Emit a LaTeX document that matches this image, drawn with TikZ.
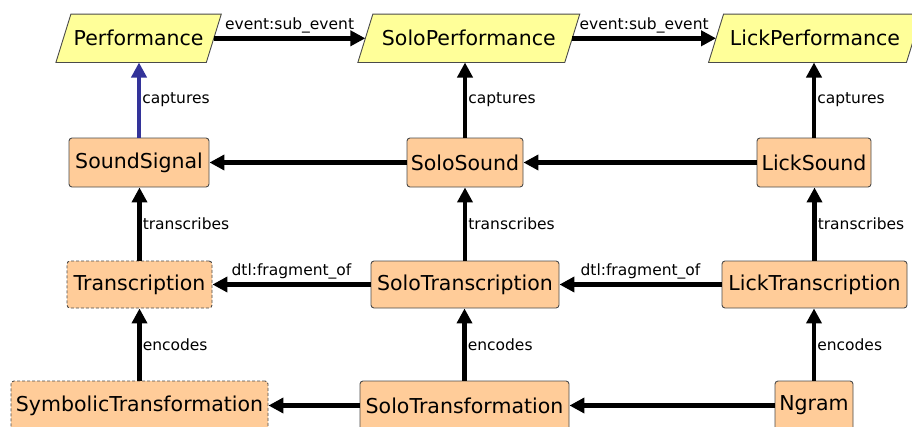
\documentclass[tikz,border=0pt]{standalone}
\usepackage{fontspec}
\setmainfont{DejaVu Sans}
\usetikzlibrary{arrows.meta,backgrounds}
\definecolor{pyellow}{HTML}{FFFF99}
\definecolor{porange}{HTML}{FFCC99}
\definecolor{pborder}{HTML}{4A4A4A}
\definecolor{pblue}{HTML}{333399}
\begin{document}
\begin{tikzpicture}[x=1pt,y=-1pt,
  every node/.style={font=\fontsize{20.5}{23}\selectfont},
  perf/.style={inner sep=0pt, minimum height=48pt},
  pshape/.style={draw=pborder, fill=pyellow, line width=0.9pt},
  cls/.style={draw=pborder, fill=porange, line width=0.9pt, rounded corners=3pt, inner sep=0pt, minimum height=49pt},
  abstract/.style={cls, dash pattern=on 3pt off 2pt},
  rel/.style={line width=4.5pt, -{Triangle[length=15pt,width=15pt]}},
  lbl/.style={font=\fontsize{15.5}{18}\selectfont, inner sep=1pt},
]
\useasboundingbox (0,0) rectangle (912,426);

% top row: performances
\node[perf, minimum width=150pt] (perf) at (138.6,38.3) {Performance};
\node[perf, minimum width=206.5pt] (soloperf) at (468.8,38.3) {SoloPerformance};
\node[perf, minimum width=197.5pt] (lickperf) at (815,38.3) {LickPerformance};
\begin{scope}[on background layer]
\foreach \n in {perf,soloperf,lickperf}{
  \draw[pshape] ([xshift=-7.5pt]\n.south west) -- ([xshift=-7.5pt]\n.south east)
     -- ([xshift=7.5pt]\n.north east) -- ([xshift=7.5pt]\n.north west) -- cycle;
}
\end{scope}

% second row: sounds
\node[cls, minimum width=140pt] (sound) at (139,162.5) {SoundSignal};
\node[cls, minimum width=116pt] (solosound) at (465,162.5) {SoloSound};
\node[cls, minimum width=114pt] (licksound) at (814,162.5) {LickSound};

% third row: transcriptions
\node[abstract, minimum width=145pt, minimum height=47pt] (trans) at (139.5,284.5) {Transcription};
\node[cls, minimum width=188pt, minimum height=47pt] (solotrans) at (465,284.5) {SoloTranscription};
\node[cls, minimum width=185pt, minimum height=47pt] (licktrans) at (814.5,284.5) {LickTranscription};

% fourth row: transformations
\node[abstract, minimum width=257pt] (symb) at (139.5,405.5) {SymbolicTransformation};
\node[cls, minimum width=209pt] (soloform) at (464.5,405.5) {SoloTransformation};
\node[cls, minimum width=78pt] (ngram) at (814,405.5) {Ngram};

% horizontal relations
\draw[rel] (perf.east) -- (soloperf.west) node[lbl, midway, above=2pt] {event:sub\_event};
\draw[rel] (soloperf.east) -- (lickperf.west) node[lbl, midway, above=2pt] {event:sub\_event};
\draw[rel] (solosound) -- (sound);
\draw[rel] (licksound) -- (solosound);
\draw[rel] (solotrans) -- (trans) node[lbl, midway, above=2pt] {dtl:fragment\_of};
\draw[rel] (licktrans) -- (solotrans) node[lbl, midway, above=2pt] {dtl:fragment\_of};
\draw[rel] (soloform) -- (symb);
\draw[rel] (ngram) -- (soloform);

% vertical relations
\draw[rel, pblue] (sound.north) -- (sound.north |- perf.south) node[lbl, black, midway, right] {captures};
\draw[rel] (solosound.north) -- (solosound.north |- soloperf.south) node[lbl, midway, right] {captures};
\draw[rel] (licksound.north) -- (licksound.north |- lickperf.south) node[lbl, midway, right] {captures};
\draw[rel] (trans.north) -- (trans.north |- sound.south) node[lbl, midway, right] {transcribes};
\draw[rel] (solotrans.north) -- (solotrans.north |- solosound.south) node[lbl, midway, right] {transcribes};
\draw[rel] (licktrans.north) -- (licktrans.north |- licksound.south) node[lbl, midway, right] {transcribes};
\draw[rel] (symb.north) -- (symb.north |- trans.south) node[lbl, midway, right] {encodes};
\draw[rel] (soloform.north) -- (soloform.north |- solotrans.south) node[lbl, midway, right] {encodes};
\draw[rel] (ngram.north) -- (ngram.north |- licktrans.south) node[lbl, midway, right] {encodes};
\end{tikzpicture}
\end{document}
